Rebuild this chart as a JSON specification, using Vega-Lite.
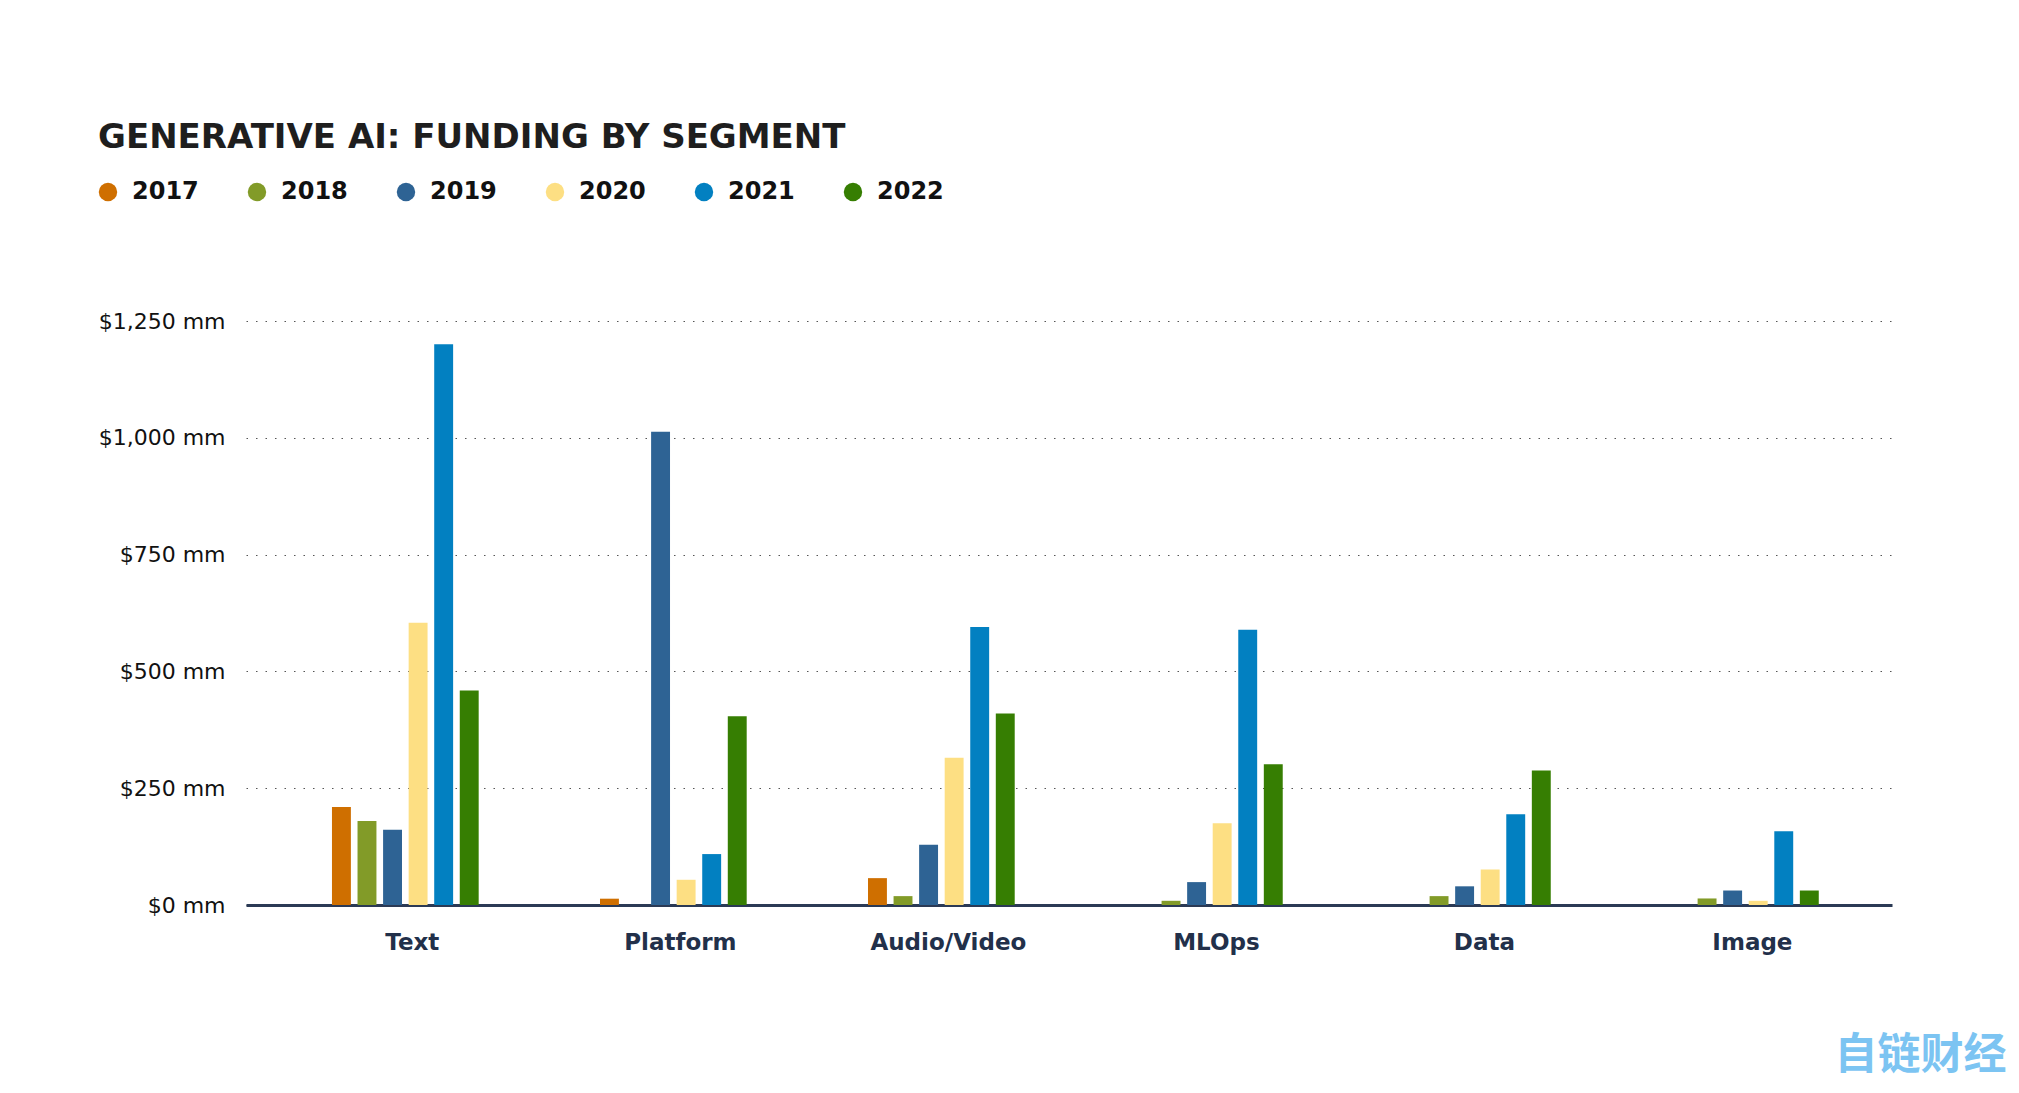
{
  "$schema": "https://vega.github.io/schema/vega-lite/v6.json",
  "autosize": {"type": "none"},
  "width": 1646,
  "height": 584,
  "padding": {"left": 246, "top": 321, "right": 127, "bottom": 188},
  "background": "#ffffff",
  "title": {
    "text": "GENERATIVE AI: FUNDING BY SEGMENT",
    "anchor": "start",
    "frame": "group",
    "font": "DejaVu Sans",
    "fontSize": 34,
    "fontWeight": "bold",
    "color": "#1e1e1e",
    "dx": -148,
    "baseline": "alphabetic",
    "offset": -2
  },
  "data": {
    "values": [
      {"segment": "Text", "year": "2017", "funding": 210},
      {"segment": "Text", "year": "2018", "funding": 180},
      {"segment": "Text", "year": "2019", "funding": 161},
      {"segment": "Text", "year": "2020", "funding": 604},
      {"segment": "Text", "year": "2021", "funding": 1200},
      {"segment": "Text", "year": "2022", "funding": 459},
      {"segment": "Platform", "year": "2017", "funding": 13.5},
      {"segment": "Platform", "year": "2019", "funding": 1013},
      {"segment": "Platform", "year": "2020", "funding": 54},
      {"segment": "Platform", "year": "2021", "funding": 109},
      {"segment": "Platform", "year": "2022", "funding": 404},
      {"segment": "Audio/Video", "year": "2017", "funding": 57.5},
      {"segment": "Audio/Video", "year": "2018", "funding": 19},
      {"segment": "Audio/Video", "year": "2019", "funding": 129},
      {"segment": "Audio/Video", "year": "2020", "funding": 315},
      {"segment": "Audio/Video", "year": "2021", "funding": 595},
      {"segment": "Audio/Video", "year": "2022", "funding": 410},
      {"segment": "MLOps", "year": "2018", "funding": 9},
      {"segment": "MLOps", "year": "2019", "funding": 49},
      {"segment": "MLOps", "year": "2020", "funding": 175},
      {"segment": "MLOps", "year": "2021", "funding": 589},
      {"segment": "MLOps", "year": "2022", "funding": 301},
      {"segment": "Data", "year": "2018", "funding": 19},
      {"segment": "Data", "year": "2019", "funding": 40},
      {"segment": "Data", "year": "2020", "funding": 76},
      {"segment": "Data", "year": "2021", "funding": 194},
      {"segment": "Data", "year": "2022", "funding": 288},
      {"segment": "Image", "year": "2018", "funding": 14},
      {"segment": "Image", "year": "2019", "funding": 31},
      {"segment": "Image", "year": "2020", "funding": 9},
      {"segment": "Image", "year": "2021", "funding": 158},
      {"segment": "Image", "year": "2022", "funding": 31}
    ]
  },
  "mark": {"type": "bar"},
  "encoding": {
    "x": {
      "field": "segment",
      "type": "nominal",
      "sort": ["Text", "Platform", "Audio/Video", "MLOps", "Data", "Image"],
      "scale": {"paddingInner": 0.4526, "paddingOuter": 0.297, "align": 0.54},
      "axis": {
        "title": "自链财经",
        "titleFont": "Noto Sans CJK SC",
        "titleFontSize": 43,
        "titleFontWeight": "bold",
        "titleColor": "#7CC4F2",
        "titleAnchor": "end",
        "titleAlign": "right",
        "titleBaseline": "alphabetic",
        "titleX": 1760,
        "titleY": 163,
        "labelAngle": 0,
        "labelFont": "DejaVu Sans",
        "labelFontSize": 23,
        "labelFontWeight": "bold",
        "labelColor": "#22304a",
        "labelPadding": 26,
        "labelOffset": 7,
        "ticks": false,
        "domain": true,
        "domainColor": "#2b3a55",
        "domainWidth": 3,
        "grid": false
      }
    },
    "xOffset": {
      "field": "year",
      "type": "nominal",
      "sort": ["2017", "2018", "2019", "2020", "2021", "2022"],
      "scale": {"domain": ["2017", "2018", "2019", "2020", "2021", "2022"], "paddingInner": 0.26, "paddingOuter": 0}
    },
    "y": {
      "field": "funding",
      "type": "quantitative",
      "scale": {"domain": [0, 1250], "nice": false},
      "axis": {
        "title": null,
        "values": [0, 250, 500, 750, 1000, 1250],
        "labelExpr": "'$' + format(datum.value, ',') + ' mm'",
        "labelFont": "DejaVu Sans",
        "labelFontSize": 22,
        "labelColor": "#111111",
        "labelPadding": 21,
        "ticks": false,
        "domain": false,
        "grid": true,
        "gridColor": "#555555",
        "gridDash": [1.5, 8],
        "gridWidth": 1
      }
    },
    "color": {
      "field": "year",
      "type": "nominal",
      "scale": {
        "domain": ["2017", "2018", "2019", "2020", "2021", "2022"],
        "range": ["#CF6F00", "#829B28", "#2E6394", "#FDDF83", "#0280C1", "#367E02"]
      },
      "legend": {
        "title": null,
        "orient": "none",
        "direction": "horizontal",
        "legendX": -150,
        "legendY": -141,
        "padding": 0,
        "symbolType": "circle",
        "symbolSize": 340,
        "symbolStrokeWidth": 0,
        "labelFont": "DejaVu Sans",
        "labelFontSize": 24,
        "labelFontWeight": "bold",
        "labelColor": "#111111",
        "labelOffset": 12,
        "columnPadding": 46
      }
    }
  },
  "config": {
    "view": {"stroke": null}
  }
}
